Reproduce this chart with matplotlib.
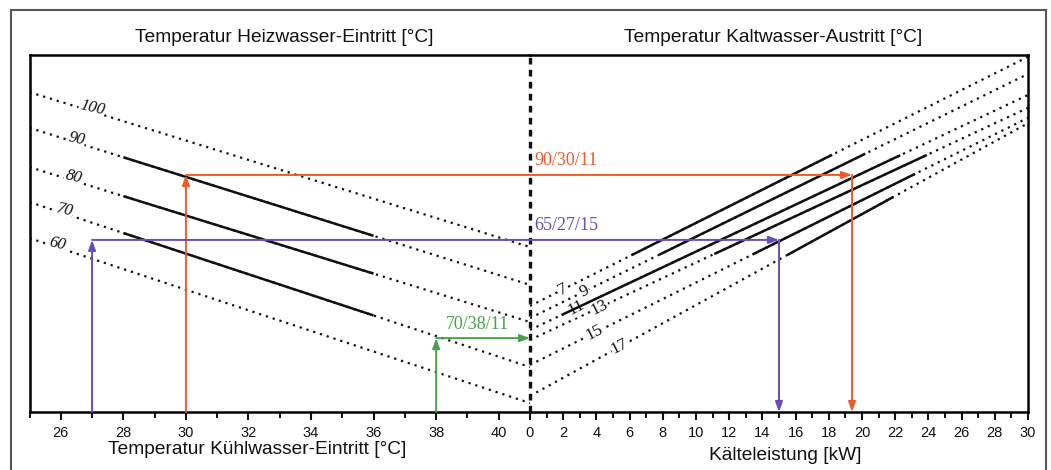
import numpy as np
import matplotlib
matplotlib.use("Agg")
import matplotlib.pyplot as plt
from matplotlib.patches import ConnectionPatch, Rectangle

plt.rcParams['font.family'] = ['Liberation Sans', 'DejaVu Sans']

W, H = 1051, 470

# left half: heating-water lines over cooling-water inlet temperature [°C]
heat_temps = [100, 90, 80, 70, 60]
heat_y_start = [89.6, 79.6, 68.6, 58.8, 48.7]    # at 25 °C
heat_y_end = [46.2, 35.6, 25.2, 12.6, 2.5]       # at 41 °C (centre line)
heat_solid = {90: (28, 36), 80: (28, 36), 70: (28, 36)}
heat_label_x = [27.0, 26.5, 26.4, 26.1, 25.9]

# right half: chilled-water lines over cooling capacity [kW]
chill_temps = [7, 9, 11, 13, 15, 17]
chill_y_start = [29.7, 26.3, 23.0, 20.2, 13.2, 4.5]   # at 0 kW
chill_y_end = [99.5, 94.7, 88.8, 85.2, 82.4, 80.9]    # at 30 kW
chill_solid_from = [6.1, 7.8, 1.9, 11.1, 13.4, 15.5]
chill_solid_to = [18.2, 20.2, 22.3, 23.9, 23.2, 21.9]
chill_label_x = [2.0, 3.3, 2.8, 4.2, 3.9, 5.4]

# worked examples (heating / cooling / chilled)
ex_labels = ['90/30/11', '65/27/15', '70/38/11']
ex_cool_t = [30, 27, 38]
ex_level = [66.4, 48.2, 20.7]
ex_kw = [19.4, 15.0, None]
ex_colors = ['#ef5a2c', '#6a4cb4', '#4aa14a']

L_X = (25, 41)
R_X = (0, 30)
Y = (0, 100)


def fx(px):
    return px / W


def fy(py):
    return 1 - py / H


fig = plt.figure(figsize=(W / 100, H / 100), dpi=100)
x0, xc, x1, ytop, ybot = 29.5, 530, 1028, 55, 412
ax_l = fig.add_axes([fx(x0), fy(ybot), fx(xc - x0), (ybot - ytop) / H])
ax_r = fig.add_axes([fx(xc), fy(ybot), fx(x1 - xc), (ybot - ytop) / H])

for ax, lim in ((ax_l, L_X), (ax_r, R_X)):
    ax.set_xlim(*lim)
    ax.set_ylim(*Y)
    ax.set_yticks([])
    ax.patch.set_alpha(0)
    for s in ax.spines.values():
        s.set_linewidth(1.8)
    ax.tick_params(axis='x', which='major', direction='out', length=6, width=1.5,
                   labelsize=10.5, pad=4, colors='#111')
    ax.tick_params(axis='x', which='minor', direction='out', length=4, width=1.3)
ax_l.spines['right'].set_visible(False)
ax_r.spines['left'].set_visible(False)

ax_l.set_xticks(np.arange(26, 41, 2))
ax_l.set_xticks(np.arange(25, 42, 1), minor=True)
ax_r.set_xticks(np.arange(0, 31, 2))
ax_r.set_xticks(np.arange(0, 31, 1), minor=True)

dot = (0, (1, 2.2))

# heating water lines
for t, ys, ye, lx in zip(heat_temps, heat_y_start, heat_y_end, heat_label_x):
    ax_l.plot(L_X, [ys, ye], color='#111', lw=1.6, ls=dot)
    if t in heat_solid:
        a, b = heat_solid[t]
        ax_l.plot([a, b], np.interp([a, b], L_X, [ys, ye]), color='#111', lw=1.8,
                  solid_capstyle='butt')
    ly = np.interp(lx, L_X, [ys, ye])
    ax_l.text(lx, ly + 1.0, str(t), family='Liberation Serif', style='italic',
              fontsize=12, rotation=-13, ha='center', va='center', color='#111',
              bbox=dict(boxstyle='square,pad=0.05', fc='white', ec='none'), zorder=4)

# chilled water lines
for t, ys, ye, a, b, lx in zip(chill_temps, chill_y_start, chill_y_end,
                               chill_solid_from, chill_solid_to, chill_label_x):
    ax_r.plot(R_X, [ys, ye], color='#111', lw=1.6, ls=dot)
    ax_r.plot([a, b], np.interp([a, b], R_X, [ys, ye]), color='#111', lw=1.8,
              solid_capstyle='butt', zorder=4.5)
    ly = np.interp(lx, R_X, [ys, ye])
    ax_r.text(lx, ly, str(t), family='Liberation Serif', fontsize=12.5, rotation=27,
              ha='center', va='center', color='#111',
              bbox=dict(boxstyle='square,pad=0.02', fc='white', ec='none'), zorder=4)

# centre line
ax_r.axvline(0, color='#111', lw=2.4, ls=(0, (2, 1.6)), zorder=5, clip_on=False)

# worked examples
arrow = dict(arrowstyle='-|>,head_length=0.6,head_width=0.22', lw=1.4, shrinkA=0, shrinkB=0)
for lab, tc, lev, kw, c in zip(ex_labels, ex_cool_t, ex_level, ex_kw, ex_colors):
    ax_l.annotate('', xy=(tc, lev), xytext=(tc, 0),
                  arrowprops=dict(arrow, color=c, mutation_scale=10), zorder=6)
    end = 0 if kw is None else kw
    con = ConnectionPatch(xyA=(tc, lev), coordsA=ax_l.transData,
                          xyB=(end, lev), coordsB=ax_r.transData,
                          arrowstyle='-|>,head_length=0.6,head_width=0.22',
                          mutation_scale=10, color=c, lw=1.4, zorder=6)
    fig.add_artist(con)
    if kw is not None:
        ax_r.annotate('', xy=(kw, 0), xytext=(kw, lev),
                      arrowprops=dict(arrow, color=c, mutation_scale=10), zorder=6)
        ax_r.text(0.25, lev + 1.8, lab, family='Liberation Serif', fontsize=13,
                  color=c, ha='left', va='bottom')
    else:
        ax_l.text(38.3, lev + 1.4, lab, family='Liberation Serif', fontsize=13,
                  color=c, ha='left', va='bottom')

# axis titles
fig.text(fx(284), fy(38), 'Temperatur Heizwasser-Eintritt [°C]', fontsize=13.8,
         ha='center', va='center', color='#111')
fig.text(fx(773), fy(38), 'Temperatur Kaltwasser-Austritt [°C]', fontsize=13.8,
         ha='center', va='center', color='#111')
fig.text(fx(257), fy(450), 'Temperatur Kühlwasser-Eintritt [°C]', fontsize=13.8,
         ha='center', va='center', color='#111')
fig.text(fx(785), fy(456), 'Kälteleistung [kW]', fontsize=13.8,
         ha='center', va='center', color='#111')

# outer frame
fig.add_artist(Rectangle((fx(11), -0.02), fx(1046 - 11), fy(10) + 0.02,
                         transform=fig.transFigure, fill=False, ec='#555', lw=1.5))

fig.savefig('out.png', dpi=100)
